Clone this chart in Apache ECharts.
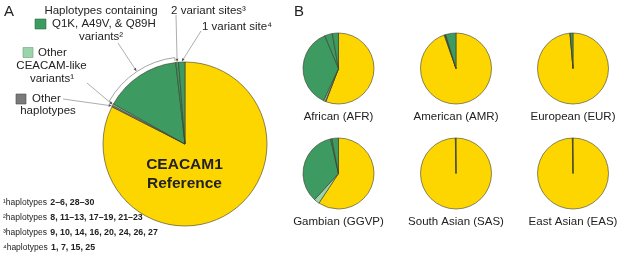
<!DOCTYPE html>
<html>
<head>
<meta charset="utf-8">
<script src="https://cdn.jsdelivr.net/npm/echarts@6/dist/echarts.min.js"></script>
<style>
html,body{margin:0;padding:0;background:#fff;}
#chart{width:617px;height:253px;}
</style>
</head>
<body>
<div id="chart"></div>
<script>
// ---- data ----
const categories = ['CEACAM1 Reference', 'Other haplotypes', 'Other CEACAM-like variants',
  'Haplotypes containing Q1K, A49V, & Q89H variants', '2 variant sites', '1 variant site'];
const allHaplotypes = [82.5, 0.3, 0.3, 15.1, 0.55, 1.25];
const afr  = [55.8, 0.3, 0.8, 36.8, 3.5, 2.8];
const amr  = [94.6, 0, 0, 0.4, 0.3, 4.7];
const eur  = [98.6, 0, 0, 0, 0.2, 1.2];
const ggvp = [59.3, 0, 2.5, 34.6, 0.6, 3.0];
const sas  = [99.7, 0, 0, 0, 0, 0.3];
const eas  = [99.7, 0, 0, 0, 0, 0.3];
const populations = ['African (AFR)', 'American (AMR)', 'European (EUR)',
  'Gambian (GGVP)', 'South Asian (SAS)', 'East Asian (EAS)'];
const popValues = [afr, amr, eur, ggvp, sas, eas];
const footnotes = [
  ['¹haplotypes', '2–6, 28–30'],
  ['²haplotypes', '8, 11–13, 17–19, 21–23'],
  ['³haplotypes', '9, 10, 14, 16, 20, 24, 26, 27'],
  ['⁴haplotypes', '1, 7, 15, 25']
];

// ---- style ----
const sliceColors = ['#FDD600', '#7a7a7a', '#9bd3ab', '#3d9a60', '#3d9a60', '#3d9a60'];
const FONT = "'Liberation Sans', Arial, sans-serif";
const TXT = '#222';
const LEAD = '#8a8a8a';

const mainCenter = [185, 144], mainR = 82;
const smallR = 35.5;
const smallCenters = [[338.5, 68.5], [456, 68.5], [573, 68.5], [338.5, 173.5], [456, 173.5], [573, 173.5]];

function pieData(vals) {
  const out = [];
  vals.forEach((v, i) => {
    if (v > 0) out.push({ name: categories[i], value: v, itemStyle: { color: sliceColors[i] } });
  });
  return out;
}
function pieSeries(vals, center, r) {
  return {
    type: 'pie', center: center, radius: r, startAngle: 90, clockwise: true,
    silent: true, animation: false, minAngle: 0, avoidLabelOverlap: false,
    label: { show: false }, labelLine: { show: false },
    itemStyle: { borderColor: '#3b3b2a', borderWidth: 0.6 },
    data: pieData(vals)
  };
}
function sliceAngles(vals) {
  const tot = vals.reduce((a, b) => a + b, 0);
  let acc = 0;
  return vals.map(v => { const s = acc / tot * 360; acc += v; return [s, acc / tot * 360]; });
}
function pt(c, r, deg) {
  const a = deg * Math.PI / 180;
  return [c[0] + r * Math.sin(a), c[1] - r * Math.cos(a)];
}
function text(t, x, y, size, opts) {
  opts = opts || {};
  return {
    type: 'text', silent: true, z: 10,
    style: {
      text: t, x: x, y: y, fill: opts.fill || TXT,
      font: (opts.bold ? 'bold ' : '') + size + 'px ' + FONT,
      textAlign: opts.align || 'left', align: opts.align || 'left',
      textVerticalAlign: 'middle', verticalAlign: 'middle'
    }
  };
}
function leader(from, to) {
  const els = [];
  const dx = to[0] - from[0], dy = to[1] - from[1];
  const len = Math.sqrt(dx * dx + dy * dy);
  const ux = dx / len, uy = dy / len;
  const ah = 3.2, aw = 1.4;
  const bx = to[0] - ux * ah, by = to[1] - uy * ah;
  els.push({ type: 'line', silent: true, z: 9,
    shape: { x1: from[0], y1: from[1], x2: bx, y2: by },
    style: { stroke: LEAD, lineWidth: 0.7 } });
  els.push({ type: 'polygon', silent: true, z: 9,
    shape: { points: [[to[0], to[1]], [bx - uy * aw, by + ux * aw], [bx + uy * aw, by - ux * aw]] },
    style: { fill: '#555' } });
  return els;
}

const series = [pieSeries(allHaplotypes, mainCenter, mainR)];
popValues.forEach((v, i) => series.push(pieSeries(v, smallCenters[i], smallR)));

const ang = sliceAngles(allHaplotypes);
const mid = i => (ang[i][0] + ang[i][1]) / 2;

const graphics = [];
graphics.push(text('A', 4, 12, 15));
graphics.push(text('B', 294, 12, 15));

// legend-like labels, panel A
graphics.push(text('Haplotypes containing', 101, 11, 11.5, { align: 'center' }));
graphics.push({ type: 'rect', silent: true, shape: { x: 35, y: 19, width: 11, height: 10 },
  style: { fill: sliceColors[3], stroke: '#2f6f45', lineWidth: 0.6 } });
graphics.push(text('Q1K, A49V, & Q89H', 52, 24, 11.5));
graphics.push(text('variants²', 101, 36.5, 11.5, { align: 'center' }));

graphics.push({ type: 'rect', silent: true, shape: { x: 23, y: 47.5, width: 10, height: 10 },
  style: { fill: sliceColors[2], stroke: '#6aa07a', lineWidth: 0.6 } });
graphics.push(text('Other', 38, 53, 11.5));
graphics.push(text('CEACAM-like', 51.5, 66, 11.5, { align: 'center' }));
graphics.push(text('variants¹', 52, 78.5, 11.5, { align: 'center' }));

graphics.push({ type: 'rect', silent: true, shape: { x: 16, y: 94, width: 10, height: 10 },
  style: { fill: sliceColors[1], stroke: '#4a4a4a', lineWidth: 0.6 } });
graphics.push(text('Other', 32, 98.5, 11.5));
graphics.push(text('haplotypes', 48, 110.5, 11.5, { align: 'center' }));

graphics.push(text('2 variant sites³', 208.5, 11, 11.5, { align: 'center' }));
graphics.push(text('1 variant site⁴', 237, 26.5, 11.5, { align: 'center' }));

// reference label inside the main pie
graphics.push(text('CEACAM1', 184.5, 165, 15.5, { align: 'center', bold: true }));
graphics.push(text('Reference', 184.5, 183.5, 15.5, { align: 'center', bold: true }));

// bracket around Q1K slice
const bR = 87;
const b0 = ang[3][0] + 0.3, b1 = ang[3][1] - 0.3;
graphics.push({ type: 'arc', silent: true, z: 9,
  shape: { cx: mainCenter[0], cy: mainCenter[1], r: bR,
    startAngle: (b0 - 90) * Math.PI / 180, endAngle: (b1 - 90) * Math.PI / 180, clockwise: true },
  style: { stroke: '#9a9a9a', lineWidth: 0.9, fill: null } });
[b0, b1].forEach(d => {
  const p1 = pt(mainCenter, bR, d), p2 = pt(mainCenter, bR - 3.5, d);
  graphics.push({ type: 'line', silent: true, z: 9,
    shape: { x1: p1[0], y1: p1[1], x2: p2[0], y2: p2[1] },
    style: { stroke: '#9a9a9a', lineWidth: 0.9 } });
});

// leader lines
graphics.push(...leader([118, 43], pt(mainCenter, bR + 0.5, mid(3))));
graphics.push(...leader([176, 15], pt(mainCenter, mainR + 0.5, mid(4))));
graphics.push(...leader([201, 31], pt(mainCenter, mainR + 0.5, mid(5))));
graphics.push(...leader([87, 83], pt(mainCenter, mainR + 0.5, mid(2))));
graphics.push(...leader([63, 99], pt(mainCenter, mainR + 0.5, mid(1))));

// footnotes
const fnY = [203, 217.5, 232.5, 247.5];
footnotes.forEach((f, i) => {
  graphics.push({
    type: 'text', silent: true, z: 10,
    style: {
      x: 3, y: fnY[i], text: '{a|' + f[0] + '} {b|' + f[1] + '}',
      textVerticalAlign: 'middle', verticalAlign: 'middle',
      rich: {
        a: { font: '8.5px ' + FONT, fill: TXT },
        b: { font: 'bold 8.8px ' + FONT, fill: TXT }
      }
    }
  });
});

// population labels
populations.forEach((p, i) => {
  const c = smallCenters[i];
  graphics.push(text(p, c[0], c[1] + 48.5, 11.5, { align: 'center' }));
});

const chart = echarts.init(document.getElementById('chart'), null, { renderer: 'canvas' });
chart.setOption({
  animation: false,
  backgroundColor: '#ffffff',
  series: series,
  graphic: { elements: graphics }
});
</script>
</body>
</html>
